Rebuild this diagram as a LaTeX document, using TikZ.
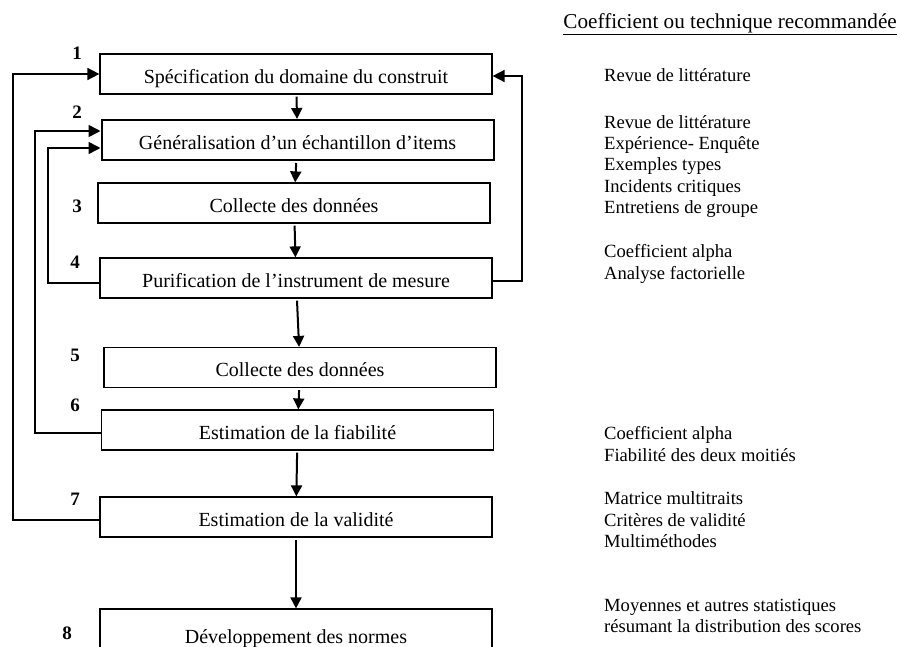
\documentclass[tikz,border=0pt]{standalone}
\usepackage{fontspec}
\setmainfont{Liberation Serif}
\usetikzlibrary{arrows.meta}

\begin{document}
\begin{tikzpicture}[x=1pt, y=-1pt,
        etape/.style={draw, line width=1.2pt, minimum width=392pt, minimum height=40pt, inner sep=0pt, text height=18pt, text depth=0pt, font=\fontsize{20}{23}\selectfont},
        numero/.style={inner sep=0pt, font=\fontsize{19}{22}\selectfont\bfseries},
        methode/.style={anchor=west, align=left, inner sep=0pt, font=\fontsize{18.6}{21.4}\selectfont},
        suite/.style={line width=2pt, shorten <=2pt, -{Triangle[length=11pt, width=11pt]}},
        retour/.style={line width=1.6pt, -{Triangle[length=12pt, width=12pt]}}]
            % Frame to keep the page size:
            \useasboundingbox                                                 (0, 0) rectangle (900, 646);
            % Steps
            \node[etape]                          (b1) at (296.0,  74.0) {Spécification du domaine du construit};
            \node[etape, line width=2pt]          (b2) at (297.5, 140.0) {Généralisation d’un échantillon d’items};
            \node[etape]                          (b3) at (294.0, 203.0) {Collecte des données};
            \node[etape]                          (b4) at (296.0, 278.0) {Purification de l’instrument de mesure};
            \node[etape]                          (b5) at (300.0, 367.5) {Collecte des données};
            \node[etape]                          (b6) at (297.5, 430.0) {Estimation de la fiabilité};
            \node[etape]                          (b7) at (296.0, 517.0) {Estimation de la validité};
            \node[etape, minimum height=50pt]     (b8) at (296.0, 634.0) {Développement des normes};
            % Step numbers
            \node[numero] (n1) at (77,  53) {1};
            \node[numero] (n2) at (77, 112) {2};
            \node[numero] (n3) at (77, 206) {3};
            \node[numero] (n4) at (75, 262) {4};
            \node[numero] (n5) at (75, 355) {5};
            \node[numero] (n6) at (75, 405) {6};
            \node[numero] (n7) at (75, 499) {7};
            \node[numero] (n8) at (67, 633) {8};
            % Forward arrows
            \draw[suite] (b1) -- (b2);
            \draw[suite] (b2) -- (b3);
            \draw[suite] (b3) -- (b4);
            \draw[suite] (b4) -- (b5);
            \draw[suite] (b5) -- (b6);
            \draw[suite] (b6) -- (b7);
            \draw[suite] (b7) -- (b8);
            % Feedback loops
            \coordinate (g7) at ( 13, 520);
            \coordinate (g6) at ( 35, 433);
            \coordinate (g4) at ( 48, 283);
            \coordinate (d4) at (522, 281);
            \draw[retour] ([yshift=-3pt]b7.west) -- (g7) |- (b1.west);
            \draw[retour] ([yshift=-3pt]b6.west) -- (g6) |- ([yshift= 9pt]b2.west);
            \draw[retour] ([yshift=-5pt]b4.west) -- (g4) |- ([yshift=-8pt]b2.west);
            \draw[retour] ([yshift=-3pt]b4.east) -- (d4) |- ([yshift=-2pt]b1.east);
            % Recommended techniques
            \node[methode, anchor=base east, font=\fontsize{21.2}{24}\selectfont] (titre) at (897, 28) {\underline{Coefficient ou technique recommandée}};
            \node[methode] (m1) at (604,  75.0) {Revue de littérature};
            \node[methode] (m2) at (604, 166.5) {Revue de littérature\\Expérience- Enquête\\Exemples types\\Incidents critiques\\Entretiens de groupe};
            \node[methode] (m4) at (604, 264.0) {Coefficient alpha\\Analyse factorielle};
            \node[methode] (m6) at (604, 444.0) {Coefficient alpha\\Fiabilité des deux moitiés};
            \node[methode] (m7) at (604, 520.0) {Matrice multitraits\\Critères de validité\\Multiméthodes};
            \node[methode] (m8) at (604, 616.0) {Moyennes et autres statistiques\\résumant la distribution des scores};
\end{tikzpicture}
\end{document}
